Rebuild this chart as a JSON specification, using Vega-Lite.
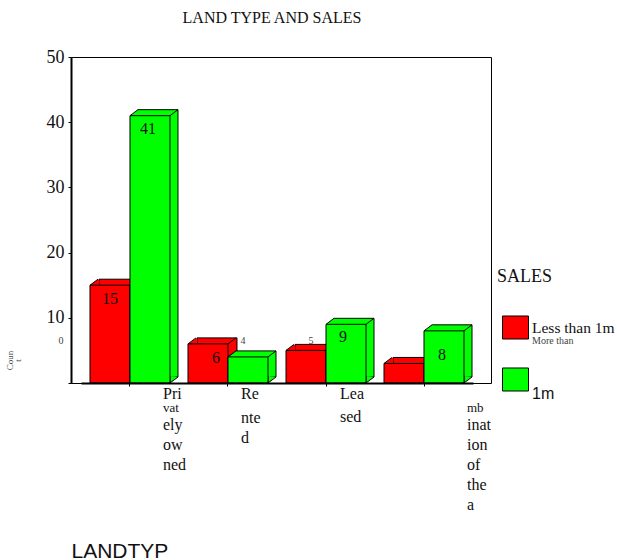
{
"$schema":"https://vega.github.io/schema/vega-lite/v6.json",
"width":420,"height":326,"autosize":{"type":"none"},
"padding":{"left":71,"top":57,"right":126,"bottom":177},
"background":"white",
"config":{"view":{"stroke":"black","strokeWidth":1}},
"title":{"text":"LAND TYPE AND SALES","font":"Liberation Serif","fontSize":16,"fontWeight":"normal","color":"#111","anchor":"middle","dx":-9,"offset":22,"frame":"group"},
"data":{"values":[
{"land":"Privately owned","sales":"Less than 1m","count":15},
{"land":"Privately owned","sales":"More than 1m","count":41},
{"land":"Rented","sales":"Less than 1m","count":6},
{"land":"Rented","sales":"More than 1m","count":4},
{"land":"Leased","sales":"Less than 1m","count":5},
{"land":"Leased","sales":"More than 1m","count":9},
{"land":"Combination of these","sales":"Less than 1m","count":3},
{"land":"Combination of these","sales":"More than 1m","count":8}
]},
"layer":[
{"transform":[{"filter":"datum.sales=='Less than 1m'"}],
"encoding":{
"x":{"field":"land","type":"nominal","sort":null,
"scale":{"domain":["Privately owned","Rented","Leased","Combination of these"],"range":[10,402],"paddingInner":0.1837,"paddingOuter":0.0918},
"axis":{"title":"LANDTYP","titleFont":"Liberation Sans","titleFontSize":21,"titleFontWeight":"normal","titleColor":"#111","titleX":0,"titleY":174,"titleAlign":"left","titleBaseline":"alphabetic","titleAnchor":"start",
"labelExpr":"datum.value=='Privately owned'?['ely','ow','ned']:datum.value=='Rented'?['nte','d']:datum.value=='Leased'?['sed']:['inat','ion','of','the','a']",
"labelFont":"Liberation Serif","labelFontSize":16,"labelColor":"#111","labelAngle":0,"labelAlign":"left","labelBaseline":"top","labelLineHeight":20,"labelOverlap":false,"labelBound":false,"labelFlush":false,"labelLimit":0,
"labelPadding":{"condition":[{"test":"datum.value=='Rented'","value":23},{"test":"datum.value=='Leased'","value":22}],"value":30},
"labelOffset":{"condition":[{"test":"datum.value=='Privately owned'","value":33},{"test":"datum.value=='Rented'","value":13},{"test":"datum.value=='Leased'","value":14}],"value":43},
"domainColor":"black","domainWidth":2,"tickColor":"black","tickSize":3,"zindex":1}},
"xOffset":{"field":"sales","type":"nominal","sort":null,"scale":{"domain":["Less than 1m","More than 1m"],"paddingInner":0,"paddingOuter":0}},
"y":{"field":"count","type":"quantitative","scale":{"domain":[0,50],"nice":false},
"axis":{"values":[0,10,20,30,40,50],"grid":false,"title":["Coun","t"],"titleFont":"Liberation Serif","titleFontSize":9,"titleFontWeight":"normal","titleColor":"#444","titleX":-57,"titleY":303,"titleLineHeight":8,"titleAngle":270,"titleAlign":"center",
"labelExpr":"datum.value==0?'':datum.label","labelFont":"Liberation Serif","labelFontSize":18,"labelColor":"#111","labelPadding":4,"domainColor":"black","domainWidth":2,"tickColor":"black","tickSize":3,"zindex":1}},
"color":{"field":"sales","type":"nominal","scale":{"domain":["Less than 1m","More than 1m"],"range":["#ff0000","#00ff00"]},
"legend":{"orient":"none","legendX":426,"legendY":211,"title":"SALES","titleFont":"Liberation Serif","titleFontSize":18,"titleFontWeight":"normal","titleColor":"#111","titlePadding":28,"direction":"vertical",
"symbolType":"M-1 -0.885H1V0.885H-1Z","symbolSize":676,"symbolStrokeColor":"black","symbolStrokeWidth":1,"symbolOpacity":1,"symbolOffset":5,"rowPadding":23,"labelFontSize":15.5,"labelColor":"#111","labelOffset":3,"labelLimit":0,
"labelExpr":"datum.value=='More than 1m'?'1m':datum.label",
"encode":{"labels":{"update":{"font":{"signal":"datum.value=='More than 1m'?'Liberation Sans':'Liberation Serif'"},"fontSize":{"signal":"datum.value=='More than 1m'?16:15.5"},"dy":{"signal":"datum.value=='More than 1m'?14:0"}}}}}}
},
"layer":[
{"mark":{"type":"bar","width":40,"yOffset":-6,"y2Offset":-6,"stroke":"black","strokeWidth":1},"encoding":{"xOffset":{"value":29}}},
{"mark":{"type":"point","shape":"M28 -6L20 0L20 -7","size":4,"filled":true,"opacity":1,"stroke":"black","strokeWidth":1},"encoding":{"y":{"datum":0,"type":"quantitative"}}},
{"mark":{"type":"point","shape":"M-20 0L-12.6 -5.5L-11 -5.5L-11 0Z","size":4,"filled":true,"opacity":1,"strokeWidth":0}},
{"mark":{"type":"point","shape":"M-20 0L-12 -6M20 0L28 -6","size":4,"filled":false,"opacity":1,"strokeWidth":1},"encoding":{"color":{"value":"black"}}},
{"mark":{"type":"bar","stroke":"black","strokeWidth":1}}
]},
{"transform":[{"filter":"datum.sales=='More than 1m'"}],
"encoding":{
"x":{"field":"land","type":"nominal","sort":null},
"xOffset":{"field":"sales","type":"nominal","sort":null},
"y":{"field":"count","type":"quantitative"},
"color":{"field":"sales","type":"nominal"}
},
"layer":[
{"mark":{"type":"bar","width":40,"yOffset":-6,"y2Offset":-6,"stroke":"black","strokeWidth":1},"encoding":{"xOffset":{"value":68}}},
{"mark":{"type":"point","shape":"M28 -6L20 0L20 -7","size":4,"filled":true,"opacity":1,"stroke":"black","strokeWidth":1},"encoding":{"y":{"datum":0,"type":"quantitative"}}},
{"mark":{"type":"point","shape":"M-20 0L-12.6 -5.5L-11 -5.5L-11 0Z","size":4,"filled":true,"opacity":1,"strokeWidth":0}},
{"mark":{"type":"point","shape":"M-20 0L-12 -6M20 0L28 -6","size":4,"filled":false,"opacity":1,"strokeWidth":1},"encoding":{"color":{"value":"black"}}},
{"mark":{"type":"bar","stroke":"black","strokeWidth":1}}
]},
{"transform":[{"filter":"datum.count==15"}],"mark":{"type":"text","font":"Liberation Serif","fontSize":16,"fill":"#111","dx":0,"dy":14},
"encoding":{"x":{"field":"land","type":"nominal","sort":null},"xOffset":{"field":"sales","type":"nominal","sort":null},"y":{"field":"count","type":"quantitative"},"text":{"field":"count"}}},
{"transform":[{"filter":"datum.count==41"}],"mark":{"type":"text","font":"Liberation Serif","fontSize":16,"fill":"#111","dx":-2,"dy":13},
"encoding":{"x":{"field":"land","type":"nominal","sort":null},"xOffset":{"field":"sales","type":"nominal","sort":null},"y":{"field":"count","type":"quantitative"},"text":{"field":"count"}}},
{"transform":[{"filter":"datum.count==6"}],"mark":{"type":"text","font":"Liberation Serif","fontSize":16,"fill":"#111","dx":8,"dy":14},
"encoding":{"x":{"field":"land","type":"nominal","sort":null},"xOffset":{"field":"sales","type":"nominal","sort":null},"y":{"field":"count","type":"quantitative"},"text":{"field":"count"}}},
{"transform":[{"filter":"datum.count==9"}],"mark":{"type":"text","font":"Liberation Serif","fontSize":16,"fill":"#111","dx":-3,"dy":13},
"encoding":{"x":{"field":"land","type":"nominal","sort":null},"xOffset":{"field":"sales","type":"nominal","sort":null},"y":{"field":"count","type":"quantitative"},"text":{"field":"count"}}},
{"transform":[{"filter":"datum.count==8"}],"mark":{"type":"text","font":"Liberation Serif","fontSize":16,"fill":"#111","dx":-2,"dy":24},
"encoding":{"x":{"field":"land","type":"nominal","sort":null},"xOffset":{"field":"sales","type":"nominal","sort":null},"y":{"field":"count","type":"quantitative"},"text":{"field":"count"}}},
{"transform":[{"filter":"datum.count==4"}],"mark":{"type":"text","font":"Liberation Serif","fontSize":10,"fill":"#444","dx":-5,"dy":-16},
"encoding":{"x":{"field":"land","type":"nominal","sort":null},"xOffset":{"field":"sales","type":"nominal","sort":null},"y":{"field":"count","type":"quantitative"},"text":{"field":"count"}}},
{"transform":[{"filter":"datum.count==5"}],"mark":{"type":"text","font":"Liberation Serif","fontSize":10,"fill":"#444","dx":5,"dy":-9},
"encoding":{"x":{"field":"land","type":"nominal","sort":null},"xOffset":{"field":"sales","type":"nominal","sort":null},"y":{"field":"count","type":"quantitative"},"text":{"field":"count"}}},
{"data":{"values":[{"t":"0"}]},"mark":{"type":"text","font":"Liberation Serif","fontSize":10,"fill":"#444","dx":-69,"dy":-42},"encoding":{"text":{"field":"t"},"x":{"datum":"Privately owned","type":"nominal"},"y":{"datum":0,"type":"quantitative"}}},
{"data":{"values":[{"t":"Pri"}]},"mark":{"type":"text","font":"Liberation Serif","fontSize":16,"fill":"#111","align":"left","dx":33,"dy":11},"encoding":{"text":{"field":"t"},"x":{"datum":"Privately owned","type":"nominal"},"y":{"datum":0,"type":"quantitative"}}},
{"data":{"values":[{"t":"vat"}]},"mark":{"type":"text","font":"Liberation Serif","fontSize":13,"fill":"#111","align":"left","dx":33,"dy":25},"encoding":{"text":{"field":"t"},"x":{"datum":"Privately owned","type":"nominal"},"y":{"datum":0,"type":"quantitative"}}},
{"data":{"values":[{"t":"Re"}]},"mark":{"type":"text","font":"Liberation Serif","fontSize":16,"fill":"#111","align":"left","dx":13,"dy":11},"encoding":{"text":{"field":"t"},"x":{"datum":"Rented","type":"nominal"},"y":{"datum":0,"type":"quantitative"}}},
{"data":{"values":[{"t":"Lea"}]},"mark":{"type":"text","font":"Liberation Serif","fontSize":16,"fill":"#111","align":"left","dx":14,"dy":11},"encoding":{"text":{"field":"t"},"x":{"datum":"Leased","type":"nominal"},"y":{"datum":0,"type":"quantitative"}}},
{"data":{"values":[{"t":"mb"}]},"mark":{"type":"text","font":"Liberation Serif","fontSize":13,"fill":"#111","align":"left","dx":43,"dy":25},"encoding":{"text":{"field":"t"},"x":{"datum":"Combination of these","type":"nominal"},"y":{"datum":0,"type":"quantitative"}}},
{"data":{"values":[{"t":"More than"}]},"mark":{"type":"text","font":"Liberation Serif","fontSize":10,"fill":"#444","align":"left","dx":108,"dy":-42},"encoding":{"text":{"field":"t"},"x":{"datum":"Combination of these","type":"nominal"},"y":{"datum":0,"type":"quantitative"}}}
]
}
